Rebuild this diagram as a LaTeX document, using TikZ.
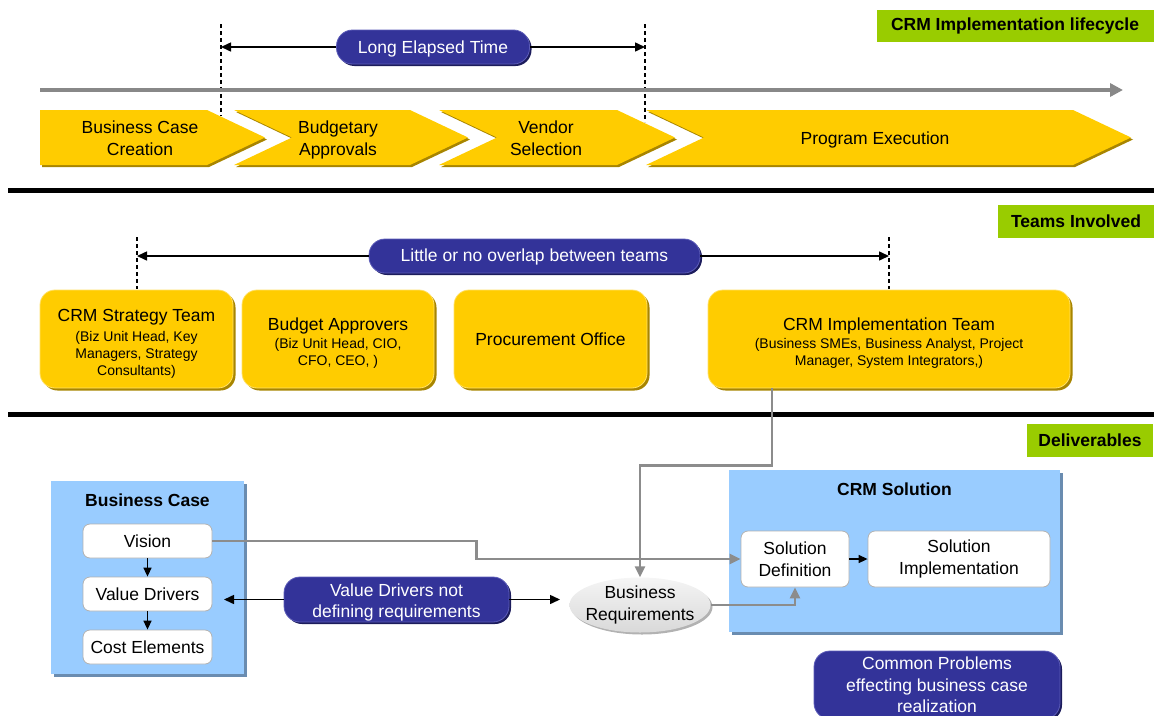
\documentclass[tikz,border=0pt]{standalone}
\usepackage{fontspec}
\setmainfont{Liberation Sans}
\usetikzlibrary{shadows,arrows.meta,calc,shapes.geometric}

\definecolor{gold}{HTML}{FFCC00}
\definecolor{goldrim}{HTML}{FFE066}
\definecolor{goldshade}{HTML}{A88500}
\definecolor{navy}{HTML}{333399}
\definecolor{navyrim}{HTML}{5C5CB8}
\definecolor{navyshade}{HTML}{1C1C5C}
\definecolor{lime}{HTML}{99CC00}
\definecolor{sky}{HTML}{99CCFF}
\definecolor{skyshade}{HTML}{6A8CB0}
\definecolor{wire}{HTML}{8C8C8C}
\definecolor{timeline}{HTML}{888888}

\newcommand\bigf{\fontsize{17.5}{21.5}\selectfont}
\newcommand\smallf{\fontsize{14}{17}\selectfont}
% single line whose baseline sits a given distance below the node centre
\newcommand\lowline[2]{\raisebox{-#1}[0pt][0pt]{#2}}

\tikzset{
  tag/.style={fill=lime, font=\bigf\bfseries, inner sep=0pt},
  pill/.style={fill=navy, draw=navyrim, line width=0.8pt, text=white,
    rounded corners=16pt, inner sep=0pt, align=center,
    drop shadow={shadow xshift=2pt, shadow yshift=-2pt, fill=navyshade, opacity=1}},
  team/.style={fill=gold, draw=goldrim, line width=0.8pt, rounded corners=15pt,
    inner sep=0pt, align=center, minimum height=98pt,
    drop shadow={shadow xshift=2.5pt, shadow yshift=-2.5pt, fill=goldshade, opacity=1}},
  panel/.style={fill=sky, inner sep=0pt,
    drop shadow={shadow xshift=3pt, shadow yshift=-3pt, fill=skyshade, opacity=1}},
  card/.style={fill=white, draw=gray!60, line width=0.8pt, rounded corners=7pt,
    inner sep=0pt, align=center},
  guide/.style={line width=1.2pt, dash pattern=on 4pt off 3pt},
  span/.style={line width=1.5pt, -{Triangle[length=10pt,width=9pt]}},
  flow/.style={line width=1.5pt, -{Triangle[length=9pt,width=8pt]}},
  wireline/.style={draw=wire, line width=2.5pt, -{Triangle[length=11pt,width=10pt]}, wire},
  rule/.style={line width=5pt},
}

\begin{document}
\begin{tikzpicture}[x=1pt, y=-1pt, font=\bigf]
\useasboundingbox (0,0) rectangle (1154,715);
\clip (0,0) rectangle (1154,715);

% ---------- lifecycle band ----------
\node[tag, minimum width=277pt, minimum height=32pt] (tagA) at (1015,26) {CRM Implementation lifecycle};

\coordinate (d1t) at (221,24);
\coordinate (d1b) at (221,116);
\coordinate (d2t) at (645,24);
\coordinate (d2b) at (645,122);
\draw[guide] (d1t) -- (d1b);
\draw[guide] (d2t) -- (d2b);

\node[pill, minimum width=193pt, minimum height=34pt] (lp) at (433,47) {\lowline{6.5pt}{Long Elapsed Time}};
\coordinate (ga) at (221,47);
\coordinate (gb) at (645,47);
\draw[span] (lp.west) -- (ga);
\draw[span] (lp.east) -- (gb);

\coordinate (ts) at (40,90);
\coordinate (te) at (1123,90);
\draw[timeline, line width=4pt, -{Triangle[length=13pt,width=13pt]}] (ts) -- (te);

% chevrons: dark edge first, face on top
\foreach \s/\c in {goldshade/{2,2}, gold/{0,0}}{
  \fill[\s, shift={(\c)}] (40,110) -- (207,110) -- (265,137.5) -- (207,165) -- (40,165) -- cycle;
  \fill[\s, shift={(\c)}] (234,110) -- (410,110) -- (468,137.5) -- (410,165) -- (234,165) -- (292,137.5) -- cycle;
  \fill[\s, shift={(\c)}] (439,110) -- (617,110) -- (675,137.5) -- (617,165) -- (439,165) -- (497,137.5) -- cycle;
  \fill[\s, shift={(\c)}] (646,110) -- (1073,110) -- (1131,137.5) -- (1073,165) -- (646,165) -- (704,137.5) -- cycle;
}
\node[align=center] (ph1) at (140,138) {Business Case\\Creation};
\node[align=center] (ph2) at (338,140) {Budgetary\\Approvals};
\node[align=center] (ph3) at (546,138) {Vendor\\Selection};
\node (ph4) at (875,140) {Program Execution};

\coordinate (r1a) at (8,190);
\coordinate (r1b) at (1154,190);
\draw[rule] (r1a) -- (r1b);

% ---------- teams band ----------
\node[tag, minimum width=156pt, minimum height=33pt] (tagB) at (1076,221.5) {Teams Involved};

\coordinate (d3t) at (137,237);
\coordinate (d3b) at (137,289);
\coordinate (d4t) at (889,237);
\coordinate (d4b) at (889,289);
\draw[guide] (d3t) -- (d3b);
\draw[guide] (d4t) -- (d4b);

\node[pill, minimum width=331pt, minimum height=34pt] (op) at (534.5,256) {\lowline{5.7pt}{Little or no overlap between teams}};
\coordinate (gc) at (137,256);
\coordinate (gd) at (889,256);
\draw[span] (op.west) -- (gc);
\draw[span] (op.east) -- (gd);

\node[team, minimum width=193pt] (st) at (136.5,339)
  {\rule{0pt}{22pt}CRM Strategy Team\\[-1.5pt]\smallf (Biz Unit Head, Key\\[-4.5pt]\smallf Managers, Strategy\\[-4.5pt]\smallf Consultants)};
\node[team, minimum width=192pt] (ba) at (338,339)
  {\rule{0pt}{21pt}Budget Approvers\\[-3.5pt]\smallf (Biz Unit Head, CIO,\\[-4.5pt]\smallf CFO, CEO, )};
\node[team, minimum width=193pt] (po) at (550.5,339) {Procurement Office};
\node[team, minimum width=362pt] (it) at (889,339)
  {\rule{0pt}{21pt}CRM Implementation Team\\[-3.5pt]\smallf (Business SMEs, Business Analyst, Project\\[-4.5pt]\smallf Manager, System Integrators,)};

\coordinate (r2a) at (8,414);
\coordinate (r2b) at (1154,414);
\draw[rule] (r2a) -- (r2b);

% ---------- deliverables band ----------
\node[tag, minimum width=126pt, minimum height=33pt] (tagC) at (1090,440.5) {Deliverables};

\node[panel, minimum width=193pt, minimum height=193pt] (bc) at (147.5,577.5) {};
\node[font=\bigf\bfseries] (bct) at (147.5,500) {Business Case};
\node[card, minimum width=129pt, minimum height=34pt] (vis) at (147.5,541) {Vision};
\node[card, minimum width=129pt, minimum height=34pt] (vd) at (147.5,594) {Value Drivers};
\node[card, minimum width=129pt, minimum height=34pt] (ce) at (147.5,647) {Cost Elements};
\draw[flow] (vis.south) -- (vd.north);
\draw[flow] (vd.south) -- (ce.north);

\node[panel, minimum width=331pt, minimum height=162pt] (cs) at (894.5,551) {};
\node[font=\bigf\bfseries] (cst) at (894.5,489) {CRM Solution};
\node[card, minimum width=108pt, minimum height=56pt] (sd) at (795,559) {Solution\\Definition};
\node[card, minimum width=182pt, minimum height=56pt] (si) at (959,559) {Solution\\Implementation};
\draw[flow] (sd.east) -- (si.west);

\node[ellipse, minimum width=141pt, minimum height=55pt, inner xsep=-6pt, inner ysep=-5pt,
      align=center, top color=gray!8, bottom color=gray!30,
      drop shadow={shadow xshift=2pt, shadow yshift=-2pt, fill=gray!60, opacity=1}]
      (br) at (640,605) {Business\\Requirements};

\node[pill, minimum width=225pt, minimum height=45pt] (vp) at (396.5,599.5) {\rule{0pt}{19pt}Value Drivers not\\defining requirements};
\coordinate (va) at (224,599.5);
\coordinate (vb) at (560,599.5);
\draw[span] (vp.west) -- (va);
\draw[span] (vp.east) -- (vb);

\draw[wireline] ([xshift=-117pt]it.south) -- ++(0,77) -| (br.north);
\draw[wireline] (vis.east) -- ++(264,0) |- (sd.west);
\draw[wireline] (br.east) -| (sd.south);

\node[pill, minimum width=246pt, minimum height=68pt] (cp) at (937,685)
  {Common Problems\\effecting business case\\realization};
\end{tikzpicture}
\end{document}
